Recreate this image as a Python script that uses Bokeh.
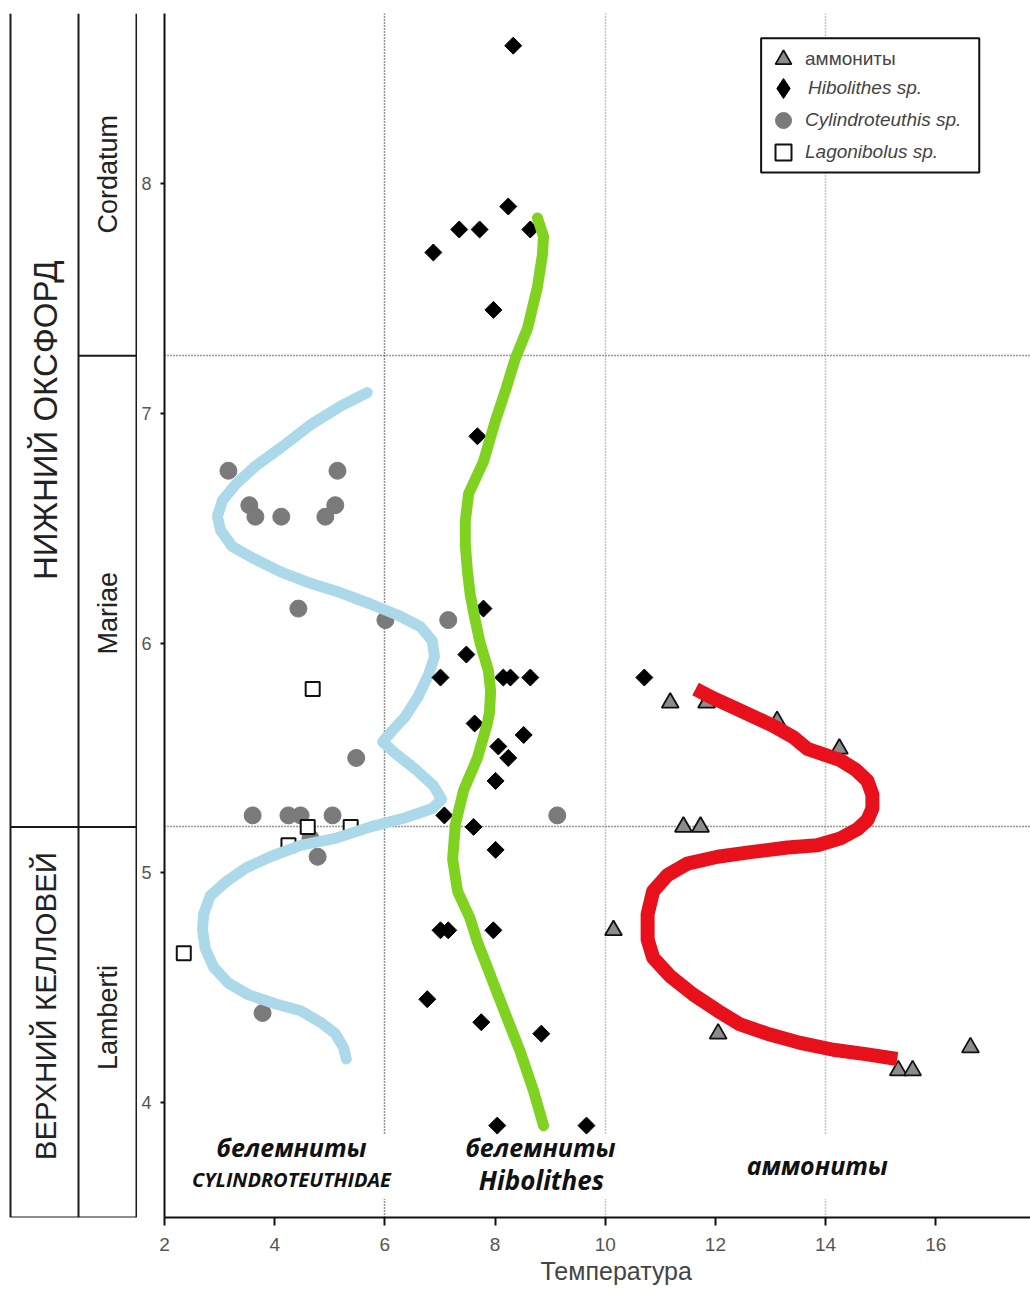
import math
from bokeh.plotting import figure
from bokeh.models import Range1d, FixedTicker, Label, Legend, LegendItem, BoxAnnotation, Grid, Title
from bokeh.layouts import row
from bokeh.embed import file_html
from bokeh.resources import INLINE

# ---------------- data ----------------
x_ticks = [2, 4, 6, 8, 10, 12, 14, 16, 18]
y_ticks = [4, 5, 6, 7, 8]
zone_bounds = [5.2, 7.25]          # Lamberti/Mariae, Mariae/Cordatum
stage_bound = 5.2                  # Callovian / Oxfordian
stages = ["ВЕРХНИЙ КЕЛЛОВЕЙ", "НИЖНИЙ ОКСФОРД"]
zones = ["Lamberti", "Mariae", "Cordatum"]

hib_x = [8.33, 8.24, 7.35, 7.72, 8.64, 6.88, 7.97, 7.68, 7.79, 7.48, 7.01, 8.15, 8.28, 8.64, 10.71,
         7.63, 8.52, 8.06, 8.24, 8.01, 7.08, 7.61, 8.01, 7.01, 7.15, 7.97, 6.77, 7.75, 8.84, 8.04, 9.66]
hib_y = [8.60, 7.90, 7.80, 7.80, 7.80, 7.70, 7.45, 6.90, 6.15, 5.95, 5.85, 5.85, 5.85, 5.85, 5.85,
         5.65, 5.60, 5.55, 5.50, 5.40, 5.25, 5.20, 5.10, 4.75, 4.75, 4.75, 4.45, 4.35, 4.30, 3.90, 3.90]

cyl_x = [3.16, 5.14, 3.54, 3.65, 4.12, 5.10, 4.92, 4.43, 6.01, 7.15, 5.48, 3.60, 4.25, 4.47, 5.05,
         4.65, 4.78, 3.78, 9.13]
cyl_y = [6.75, 6.75, 6.60, 6.55, 6.55, 6.60, 6.55, 6.15, 6.10, 6.10, 5.50, 5.25, 5.25, 5.25, 5.25,
         5.15, 5.07, 4.39, 5.25]

lag_x = [4.69, 4.60, 5.38, 4.25, 2.35]
lag_y = [5.80, 5.20, 5.20, 5.12, 4.65]

amm_x = [11.18, 11.84, 13.12, 14.25, 11.42, 11.73, 10.15, 12.05, 16.63, 15.32, 15.58]
amm_y = [5.74, 5.74, 5.66, 5.54, 5.20, 5.20, 4.75, 4.30, 4.24, 4.14, 4.14]

# trend curves
blue_x = [5.68, 5.19, 4.65, 4.11, 3.65, 3.29, 3.05, 2.96, 3.02, 3.23, 3.60, 4.11, 4.65, 5.19, 5.74,
          6.25, 6.65, 6.86, 6.90, 6.79, 6.61, 6.37, 6.14, 5.96, 6.19, 6.56, 6.88, 7.03, 6.86, 6.37,
          5.74, 5.10, 4.47, 3.92, 3.47, 3.11, 2.83, 2.71, 2.69, 2.74, 2.89, 3.16, 3.52, 4.01, 4.47,
          4.83, 5.10, 5.25, 5.30]
blue_y = [7.09, 7.03, 6.95, 6.85, 6.77, 6.69, 6.62, 6.55, 6.49, 6.42, 6.37, 6.31, 6.26, 6.22, 6.17,
          6.12, 6.07, 6.01, 5.94, 5.86, 5.77, 5.68, 5.62, 5.57, 5.52, 5.45, 5.38, 5.32, 5.28, 5.24,
          5.20, 5.15, 5.12, 5.07, 5.02, 4.96, 4.90, 4.82, 4.75, 4.67, 4.59, 4.52, 4.47, 4.43, 4.40,
          4.35, 4.30, 4.24, 4.19]

green_x = [8.77, 8.88, 8.86, 8.77, 8.59, 8.37, 8.19, 8.01, 7.79, 7.52, 7.46, 7.46, 7.50, 7.55, 7.64,
           7.73, 7.88, 7.92, 7.90, 7.86, 7.68, 7.43, 7.28, 7.23, 7.32, 7.55, 7.68, 8.10, 8.46, 8.70,
           8.88]
green_y = [7.85, 7.77, 7.69, 7.55, 7.37, 7.24, 7.10, 6.97, 6.79, 6.65, 6.53, 6.43, 6.31, 6.21, 6.10,
           6.00, 5.88, 5.79, 5.70, 5.65, 5.50, 5.36, 5.21, 5.06, 4.92, 4.80, 4.70, 4.44, 4.22, 4.05,
           3.90]

red_x = [11.64, 11.96, 12.33, 12.69, 13.05, 13.42, 13.67, 14.03, 14.27, 14.54, 14.76, 14.85, 14.85,
         14.76, 14.58, 14.27, 13.85, 13.31, 12.64, 12.04, 11.49, 11.13, 10.87, 10.77, 10.77, 10.87,
         11.18, 11.60, 12.04, 12.45, 12.94, 13.54, 14.14, 14.76, 15.30]
red_y = [5.80, 5.76, 5.72, 5.68, 5.64, 5.59, 5.54, 5.51, 5.49, 5.45, 5.40, 5.34, 5.28, 5.23, 5.19,
         5.15, 5.12, 5.11, 5.09, 5.07, 5.04, 4.99, 4.92, 4.82, 4.71, 4.63, 4.55, 4.47, 4.40, 4.34,
         4.30, 4.26, 4.23, 4.21, 4.19]

# ---------------- layout ----------------
Y0, Y1 = 3.5, 8.74
X0, X1 = 2.0, 17.72
H = 1295
TOP, BOT = 13, 78
FONT = "Liberation Sans"

yr = Range1d(Y0, Y1)

# stratigraphic column
strat = figure(width=137, height=H, x_range=Range1d(0, 137), y_range=yr,
               output_backend="svg", toolbar_location=None,
               x_axis_location=None, y_axis_location=None,
               min_border_left=0, min_border_right=0, min_border_top=TOP, min_border_bottom=BOT)
strat.grid.visible = False
strat.outline_line_color = None
colx = [10, 78, 136]
strat.segment(x0=colx, y0=[Y0] * 3, x1=colx, y1=[Y1] * 3, line_color="#1a1a1a", line_width=2)
strat.segment(x0=[10, 10, 78], y0=[Y0, stage_bound, zone_bounds[1]],
              x1=[136, 136, 136], y1=[Y0, stage_bound, zone_bounds[1]],
              line_color="#1a1a1a", line_width=2)
for txt, yy, fs in zip(stages, [4.42, 6.97], ["29.5px", "33px"]):
    strat.add_layout(Label(x=45, y=yy, text=txt, angle=math.pi / 2, text_align="center",
                           text_baseline="middle", text_font=FONT, text_font_size=fs,
                           text_color="#222222"))
for txt, yy in zip(zones, [4.37, 6.13, 8.04]):
    strat.add_layout(Label(x=107, y=yy, text=txt, angle=math.pi / 2, text_align="center",
                           text_baseline="middle", text_font=FONT, text_font_size="27px",
                           text_color="#222222"))

# main plot
p = figure(width=893, height=H, x_range=Range1d(X0, X1), y_range=yr,
           output_backend="svg", toolbar_location=None,
           min_border_left=27, min_border_right=0, min_border_top=TOP, min_border_bottom=BOT)
p.outline_line_color = None

p.xaxis.ticker = FixedTicker(ticks=x_ticks)
p.yaxis.ticker = FixedTicker(ticks=y_ticks)
for ax in (p.xaxis, p.yaxis):
    ax.axis_line_width = 2
    ax.axis_line_color = "#111111"
    ax.major_tick_line_color = "#111111"
    ax.major_tick_line_width = 2
    ax.major_tick_in = 0
    ax.minor_tick_line_color = None
    ax.major_label_text_font = FONT
    ax.major_label_text_color = "#555555"
p.xaxis.major_tick_out = 8
p.xaxis.major_label_standoff = 12
p.xaxis.major_label_text_font_size = "19px"
p.yaxis.major_tick_out = 4
p.yaxis.major_label_standoff = 9
p.yaxis.major_label_text_font_size = "18px"

p.xgrid.ticker = FixedTicker(ticks=[6])
p.xgrid.grid_line_color = "#222222"
p.xgrid.grid_line_dash = "1 2"
p.xgrid.grid_line_width = 1.5
g2 = Grid(dimension=0, ticker=FixedTicker(ticks=[10, 14]), grid_line_color="#8a8a8a",
          grid_line_dash="1 2", grid_line_width=1.5)
p.add_layout(g2)
p.ygrid.ticker = FixedTicker(ticks=zone_bounds)
p.ygrid.grid_line_color = "#333333"
p.ygrid.grid_line_dash = "1 2"
p.ygrid.grid_line_width = 1.5

# white boxes behind group labels (interrupt the grid lines)
for l, r in [(2.38, 6.28), (7.41, 10.24), (12.8, 15.6)]:
    p.add_layout(BoxAnnotation(left=l, right=r, bottom=3.58, top=3.86, fill_color="white",
                               fill_alpha=1, line_color=None, level="underlay"))

# marks
r_cyl = p.scatter(cyl_x, cyl_y, marker="circle", size=17, fill_color="#7a7a7a", line_color="#7a7a7a")
r_lag = p.scatter(lag_x, lag_y, marker="square", size=14, fill_color="white", line_color="#111111",
                  line_width=2)
p.line(blue_x, blue_y, line_color="#acd9e9", line_width=11, line_join="round", line_cap="round")
# diamond key glyph (lies fully under the square-diamonds below; used for the legend symbol)
r_hib_key = p.scatter(hib_x, hib_y, marker="diamond", size=15, fill_color="black", line_color="black")
r_hib = p.scatter(hib_x, hib_y, marker="square", angle=math.pi / 4, size=12, fill_color="black",
                  line_color="black")
p.line(green_x, green_y, line_color="#7fd21f", line_width=11, line_join="round", line_cap="round")
r_amm = p.scatter(amm_x, amm_y, marker="triangle", size=17, fill_color="#8c8c8c", line_color="#111111",
                  line_width=1.8)
p.line(red_x, red_y, line_color="#e8111b", line_width=14, line_join="round", line_cap="butt")

# legend
p.add_layout(BoxAnnotation(left=12.83, right=16.79, bottom=8.048, top=8.632, fill_color="white",
                           fill_alpha=1, line_color="#111111", line_alpha=1, line_width=2))
# (label, renderer, font style, glyph box size, location)
entries = [("аммониты", r_amm, "normal", 40, (599, 1138), 2),
           ("Hibolithes sp.", r_hib_key, "italic", 50, (594, 1104), -3),
           ("Cylindroteuthis sp.", r_cyl, "italic", 40, (599, 1077), 2),
           ("Lagonibolus sp.", r_lag, "italic", 40, (599, 1045), 2)]
for lab, rend, style, gs, loc, so in entries:
    lg = Legend(items=[LegendItem(label=lab, renderers=[rend])], location=loc,
                border_line_color=None, background_fill_alpha=0, padding=0, margin=0,
                glyph_width=gs, glyph_height=gs, label_standoff=so, label_height=20,
                label_text_font=FONT, label_text_font_size="19px", label_text_color="#444444",
                label_text_font_style=style)
    p.add_layout(lg)

# group labels
GF = "Open Sans"
for txt, xx, yy, sz in [("белемниты", 4.305, 3.808, "25px"),
                        ("CYLINDROTEUTHIDAE", 4.305, 3.664, "20px"),
                        ("белемниты", 8.824, 3.808, "25px"),
                        ("Hibolithes", 8.842, 3.664, "26px"),
                        ("аммониты", 13.85, 3.73, "25px")]:
    p.add_layout(Label(x=xx, y=yy, text=txt, text_align="center", text_baseline="middle",
                       text_font=GF, text_font_style="bold italic", text_font_size=sz,
                       text_color="#111111"))

# axis title (placed under the axis, centred where the reference has it)
p.add_layout(Title(text="Температура", align="left", offset=376, standoff=2,
                   text_font=FONT, text_font_size="25px", text_font_style="normal",
                   text_color="#444444"), "below")

layout = row(strat, p)
open("out.html", "w").write(file_html(layout, INLINE))
